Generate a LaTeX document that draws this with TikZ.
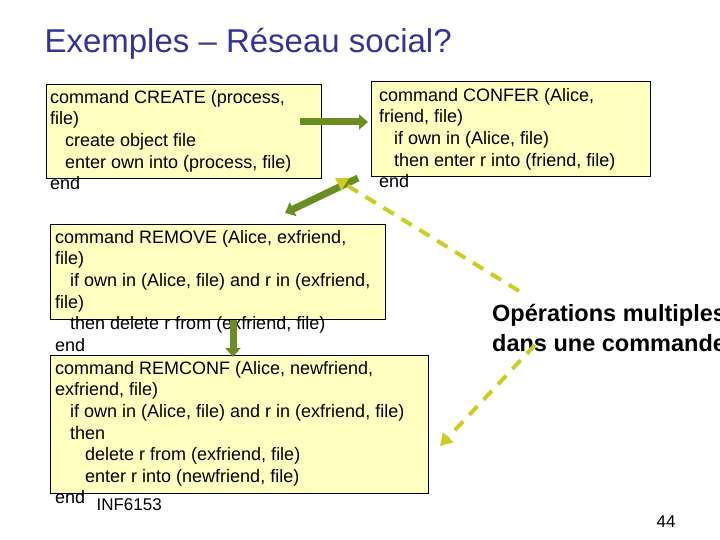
\documentclass[tikz,border=0pt]{standalone}
\usepackage{fontspec}
\setmainfont{Liberation Sans}
\usetikzlibrary{arrows.meta}
\definecolor{boxfill}{HTML}{FFFFC0}
\definecolor{arrfill}{HTML}{8CA832}
\definecolor{arredge}{HTML}{6B8E23}
\definecolor{dashc}{HTML}{CCCC22}
\definecolor{titlec}{HTML}{333399}
\begin{document}
\begin{tikzpicture}[x=1pt,y=-1pt,
  box/.style={draw=black,fill=boxfill,line width=0.8pt},
  code/.style={anchor=north west,align=left,inner sep=0pt,font=\fontsize{18}{21.6}\selectfont},
  fat/.style={draw=arredge,line width=7pt,-{Triangle[length=9pt,width=15pt]},color=arredge},
  dashline/.style={draw=dashc,line width=4pt,dash pattern=on 12pt off 9pt,-{Triangle[length=12pt,width=14pt]}}]
\useasboundingbox (0,0) rectangle (720,540);
\node[anchor=west,text=titlec,font=\fontsize{33}{36}\selectfont] (title) at (41,44) {Exemples – Réseau social?};
\draw[box] (46,84) rectangle (321,178);
\draw[box] (371,81) rectangle (650,176);
\draw[box] (50,224) rectangle (385,319);
\draw[box] (50,355) rectangle (428,493);
\node[code] (t1) at (50,90) {command CREATE (process,\\file)\\\hspace*{15pt}create object file\\\hspace*{15pt}enter own into (process, file)\\end};
\node[code] (t2) at (379,88) {command CONFER (Alice,\\friend, file)\\\hspace*{15pt}if own in (Alice, file)\\\hspace*{15pt}then enter r into (friend, file)\\end};
\node[code] (t3) at (55,230) {command REMOVE (Alice, exfriend,\\file)\\\hspace*{15pt}if own in (Alice, file) and r in (exfriend,\\file)\\\hspace*{15pt}then delete r from (exfriend, file)\\end};
\node[code] (t4) at (55,361) {command REMCONF (Alice, newfriend,\\exfriend, file)\\\hspace*{15pt}if own in (Alice, file) and r in (exfriend, file)\\\hspace*{15pt}then\\\hspace*{30pt}delete r from (exfriend, file)\\\hspace*{30pt}enter r into (newfriend, file)\\end};
\coordinate (a1s) at (300,122); \coordinate (a1e) at (368,122);
\coordinate (a2s) at (358,178); \coordinate (a2e) at (285,213);
\coordinate (a3s) at (233,320); \coordinate (a3e) at (233,357);
\draw[fat] (a1s) -- (a1e);
\draw[fat] (a2s) -- (a2e);
\draw[fat] (a3s) -- (a3e);
\node[anchor=north west,align=left,inner sep=0pt,font=\fontsize{23.5}{30}\bfseries\selectfont] (ops) at (492,304) {Opérations multiples\\dans une commande};
\coordinate (d1s) at (519,291); \coordinate (d1e) at (335,178);
\coordinate (d2s) at (535,345); \coordinate (d2e) at (440,446);
\draw[dashline] (d1s) -- (d1e);
\draw[dashline] (d2s) -- (d2e);
\node[anchor=west,font=\fontsize{17}{18}\selectfont] (inf) at (93,505) {INF6153};
\node[anchor=center,font=\fontsize{17}{18}\selectfont] (pg) at (666,522) {44};
\end{tikzpicture}
\end{document}
